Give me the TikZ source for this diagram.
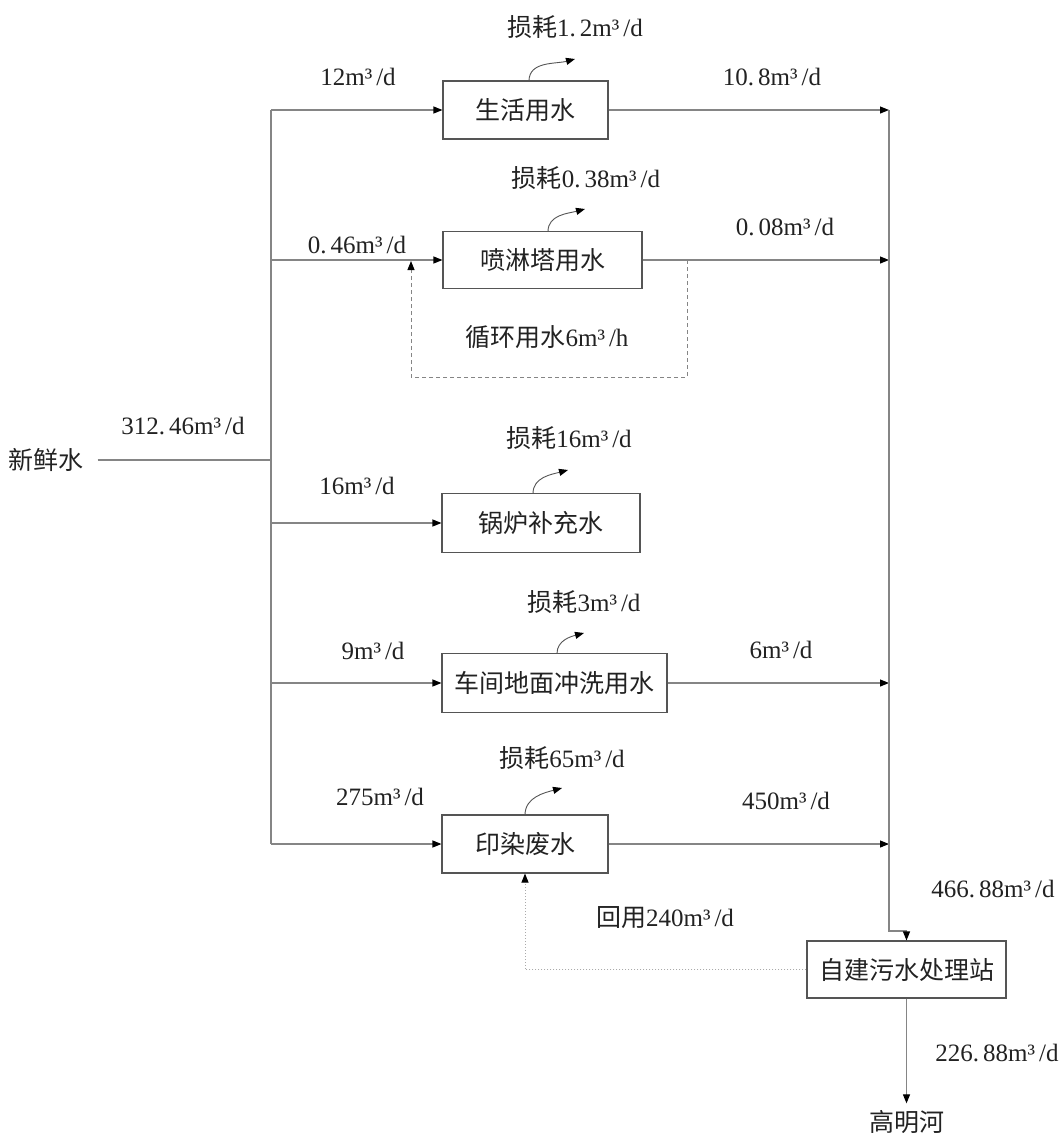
\documentclass[tikz,border=0pt]{standalone}
\usepackage{fontspec}
\setmainfont{Liberation Serif}
\newfontfamily\cjk{Noto Sans CJK SC}
\usetikzlibrary{arrows.meta}
\definecolor{linegray}{HTML}{858585}
\definecolor{boxgray}{HTML}{555555}
\definecolor{txt}{HTML}{222222}
\newcommand{\pd}{.\kern4pt}
\newcommand{\unitd}{m³\kern4pt/d}
\begin{document}
\begin{tikzpicture}[x=1pt,y=-1pt,
  every node/.style={font=\fontsize{25}{29}\selectfont, text=txt},
  proc/.style={draw=boxgray, line width=1.1pt, inner sep=0pt, fill=white},
  lbl/.style={inner sep=2pt},
  flow/.style={draw=linegray, line width=1.1pt},
  arr/.style={flow, -{Triangle[length=9pt,width=7pt,color=black]}},
  loss/.style={draw=boxgray, line width=0.9pt, -{Triangle[length=9pt,width=7pt,color=black]}},
  circ/.style={draw=linegray, line width=1pt, dash pattern=on 4pt off 3pt, -{Triangle[length=9pt,width=7pt,color=black]}},
  reuse/.style={draw=linegray!70, line width=1pt, dotted, -{Triangle[length=9pt,width=7pt,color=black]}}
]
\useasboundingbox (0,0) rectangle (1062,1133);
\fill[white] (0,0) rectangle (1062,1133);

% process boxes
\node[proc, minimum width=165pt, minimum height=58pt] (sh) at (525.5,110) {\cjk 生活用水};
\node[proc, minimum width=199pt, minimum height=57pt] (pl) at (542.5,260) {\cjk 喷淋塔用水};
\node[proc, minimum width=198pt, minimum height=59pt] (gl) at (541,523) {\cjk 锅炉补充水};
\node[proc, minimum width=225pt, minimum height=59pt] (cj) at (554.5,683) {\cjk 车间地面冲洗用水};
\node[proc, minimum width=166pt, minimum height=58pt] (yr) at (525,844) {\cjk 印染废水};
\node[proc, minimum width=199pt, minimum height=57pt] (ws) at (906.5,969.5) {\cjk 自建污水处理站};

% terminal texts
\node[inner xsep=14pt, inner ysep=2pt] (xx) at (46,460) {\cjk 新鲜水};
\node[inner sep=2pt, outer sep=5pt] (gmh) at (906.5,1122) {\cjk 高明河};

% trunk coordinates
\coordinate (t0) at (271,460);
\coordinate (t1) at (271,110);
\coordinate (t2) at (271,260);
\coordinate (t3) at (271,523);
\coordinate (t4) at (271,683);
\coordinate (t5) at (271,844);
\coordinate (c1) at (889,110);
\coordinate (c2) at (889,260);
\coordinate (c4) at (889,683);
\coordinate (c5) at (889,844);
\coordinate (c6) at (889,931);
\coordinate (c7) at (906.5,931);

% fresh water trunk
\draw[flow] (xx.east) -- (t0);
\draw[flow] (t1) -- (t5);
\draw[arr] (t1) -- (sh.west);
\draw[arr] (t2) -- (pl.west);
\draw[arr] (t3) -- (gl.west);
\draw[arr] (t4) -- (cj.west);
\draw[arr] (t5) -- (yr.west);

% wastewater collector
\draw[arr] (sh.east) -- (c1);
\draw[arr] (pl.east) -- (c2);
\draw[arr] (cj.east) -- (c4);
\draw[arr] (yr.east) -- (c5);
\draw[flow] (c1) -- (c6) -- (c7);
\draw[arr] (c7) -- (ws.north);
\draw[arr] (ws.south) -- (gmh.north);

% circulation loop of spray tower
\coordinate (d1) at (687,260);
\coordinate (d2) at (687,377);
\coordinate (d3) at (411,377);
\coordinate (d4) at (411,261);
\draw[circ] (d1) -- (d2) -- (d3) -- (d4);

% reuse line
\draw[reuse] (ws.west) -| (yr.south);

% loss arrows
\coordinate (l1a) at (529,81);  \coordinate (l1b) at (575,59);
\coordinate (l2a) at (548,231.5); \coordinate (l2b) at (585,209);
\coordinate (l3a) at (533,493.5); \coordinate (l3b) at (568,470);
\coordinate (l4a) at (557,653.5); \coordinate (l4b) at (584,633);
\coordinate (l5a) at (525,815); \coordinate (l5b) at (562,788);
\draw[loss] (l1a) to[out=90,in=195] (l1b);
\draw[loss] (l2a) to[out=90,in=195] (l2b);
\draw[loss] (l3a) to[out=90,in=195] (l3b);
\draw[loss] (l4a) to[out=90,in=195] (l4b);
\draw[loss] (l5a) to[out=90,in=195] (l5b);

% loss labels
\node[lbl] (s1) at (575,27) {{\cjk 损耗}1\pd 2\unitd};
\node[lbl] (s2) at (586,178) {{\cjk 损耗}0\pd 38\unitd};
\node[lbl] (s3) at (569,438) {{\cjk 损耗}16\unitd};
\node[lbl] (s4) at (584,602) {{\cjk 损耗}3\unitd};
\node[lbl] (s5) at (562,758) {{\cjk 损耗}65\unitd};

% flow labels
\node[lbl] (f1) at (358,77) {12\unitd};
\node[lbl] (f2) at (357,245) {0\pd 46\unitd};
\node[lbl] (f3) at (357,486) {16\unitd};
\node[lbl] (f4) at (373,651) {9\unitd};
\node[lbl] (f5) at (380,797) {275\unitd};
\node[lbl] (f0) at (183,426) {312\pd 46\unitd};
\node[lbl] (o1) at (772,77) {10\pd 8\unitd};
\node[lbl] (o2) at (785,227) {0\pd 08\unitd};
\node[lbl] (o4) at (781,650) {6\unitd};
\node[lbl] (o5) at (786,801) {450\unitd};
\node[lbl] (o6) at (993,889) {466\pd 88\unitd};
\node[lbl] (o7) at (997,1053) {226\pd 88\unitd};
\node[lbl] (r1) at (547,337) {{\cjk 循环用水}6m³\kern4pt/h};
\node[lbl] (r2) at (665,918) {{\cjk 回用}240\unitd};
\end{tikzpicture}
\end{document}
